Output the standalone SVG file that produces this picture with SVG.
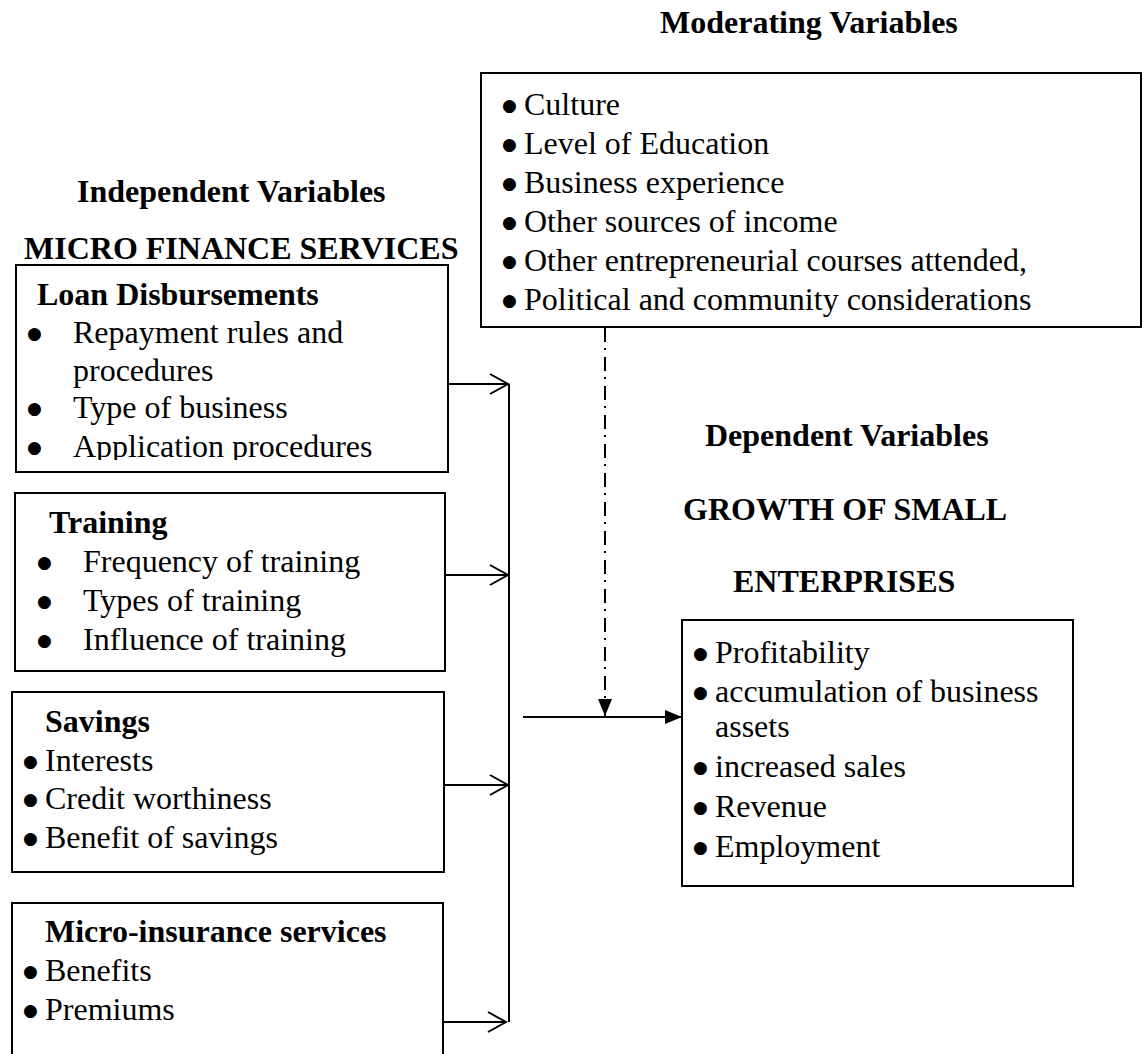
<svg xmlns="http://www.w3.org/2000/svg" width="1144" height="1054" viewBox="0 0 1144 1054">
<defs>
<style>
text{font-family:"Liberation Serif","Times New Roman",serif;font-size:32px;fill:#000}
.t{font-weight:bold}
.b{font-family:"DejaVu Sans",sans-serif;font-size:17px}
.box{fill:#fff;stroke:#000;stroke-width:2}
.ln{fill:none;stroke:#000;stroke-width:2}
.dd{fill:none;stroke:#000;stroke-width:2;stroke-dasharray:14 6 2 7}
</style>
<marker id="open" markerUnits="userSpaceOnUse" viewBox="-2 -2 22 24" markerWidth="22" markerHeight="24" refX="18" refY="10" orient="auto">
<path d="M0,0 L18,10 L0,20" fill="none" stroke="#000" stroke-width="2"/>
</marker>
<marker id="fill" markerUnits="userSpaceOnUse" viewBox="0 0 17 14" markerWidth="17" markerHeight="14" refX="17" refY="7" orient="auto">
<path d="M0,0 L17,7 L0,14 Z" fill="#000"/>
</marker>
<clipPath id="loanclip"><rect x="0" y="260" width="460" height="200"/></clipPath>
</defs>
<rect width="1144" height="1054" fill="#fff"/>

<g id="titles">
<text class="t" x="660" y="33">Moderating Variables</text>
<text class="t" x="77" y="202">Independent Variables</text>
<text class="t" x="24" y="259">MICRO FINANCE SERVICES</text>
<text class="t" x="705" y="446">Dependent Variables</text>
<text class="t" x="683" y="520">GROWTH OF SMALL</text>
<text class="t" x="733" y="592">ENTERPRISES</text>
</g>

<g id="moderating">
<rect class="box" x="481" y="73" width="660" height="254"/>
<text y="115"><tspan class="b" x="502" dy="-4">●</tspan><tspan x="524" dy="4">Culture</tspan></text>
<text y="154"><tspan class="b" x="502" dy="-4">●</tspan><tspan x="524" dy="4">Level of Education</tspan></text>
<text y="193"><tspan class="b" x="502" dy="-4">●</tspan><tspan x="524" dy="4">Business experience</tspan></text>
<text y="232"><tspan class="b" x="502" dy="-4">●</tspan><tspan x="524" dy="4">Other sources of income</tspan></text>
<text y="271"><tspan class="b" x="502" dy="-4">●</tspan><tspan x="524" dy="4">Other entrepreneurial courses attended,</tspan></text>
<text y="310"><tspan class="b" x="502" dy="-4">●</tspan><tspan x="524" dy="4">Political and community considerations</tspan></text>
</g>

<g id="loan">
<rect class="box" x="16" y="265" width="432" height="207"/>
<g clip-path="url(#loanclip)">
<text class="t" x="37" y="305">Loan Disbursements</text>
<text y="343"><tspan class="b" x="27" dy="-4">●</tspan><tspan x="73" dy="4">Repayment rules and</tspan></text>
<text x="73" y="381">procedures</text>
<text y="418"><tspan class="b" x="27" dy="-4">●</tspan><tspan x="73" dy="4">Type of business</tspan></text>
<text y="457"><tspan class="b" x="27" dy="-4">●</tspan><tspan x="73" dy="4">Application procedures</tspan></text>
</g>
</g>

<g id="training">
<rect class="box" x="15" y="493" width="430" height="178"/>
<text class="t" x="49" y="533">Training</text>
<text y="572"><tspan class="b" x="37" dy="-4">●</tspan><tspan x="83" dy="4">Frequency of training</tspan></text>
<text y="611"><tspan class="b" x="37" dy="-4">●</tspan><tspan x="83" dy="4">Types of training</tspan></text>
<text y="650"><tspan class="b" x="37" dy="-4">●</tspan><tspan x="83" dy="4">Influence of training</tspan></text>
</g>

<g id="savings">
<rect class="box" x="12" y="692" width="432" height="180"/>
<text class="t" x="45" y="732">Savings</text>
<text y="771"><tspan class="b" x="23" dy="-4">●</tspan><tspan x="45" dy="4">Interests</tspan></text>
<text y="809"><tspan class="b" x="23" dy="-4">●</tspan><tspan x="45" dy="4">Credit worthiness</tspan></text>
<text y="848"><tspan class="b" x="23" dy="-4">●</tspan><tspan x="45" dy="4">Benefit of savings</tspan></text>
</g>

<g id="microinsurance">
<rect class="box" x="12" y="903" width="431" height="200"/>
<text class="t" x="45" y="942">Micro-insurance services</text>
<text y="981"><tspan class="b" x="23" dy="-4">●</tspan><tspan x="45" dy="4">Benefits</tspan></text>
<text y="1020"><tspan class="b" x="23" dy="-4">●</tspan><tspan x="45" dy="4">Premiums</tspan></text>
</g>

<g id="dependent">
<rect class="box" x="682" y="620" width="391" height="266"/>
<text y="663"><tspan class="b" x="693" dy="-4">●</tspan><tspan x="715" dy="4">Profitability</tspan></text>
<text y="702"><tspan class="b" x="693" dy="-4">●</tspan><tspan x="715" dy="4">accumulation of business</tspan></text>
<text x="715" y="737">assets</text>
<text y="777"><tspan class="b" x="693" dy="-4">●</tspan><tspan x="715" dy="4">increased sales</tspan></text>
<text y="817"><tspan class="b" x="693" dy="-4">●</tspan><tspan x="715" dy="4">Revenue</tspan></text>
<text y="857"><tspan class="b" x="693" dy="-4">●</tspan><tspan x="715" dy="4">Employment</tspan></text>
</g>

<g id="connectors">
<line class="ln" x1="509" y1="384" x2="509" y2="1022"/>
<line class="ln" x1="448" y1="384" x2="508" y2="384" marker-end="url(#open)"/>
<line class="ln" x1="446" y1="575" x2="508" y2="575" marker-end="url(#open)"/>
<line class="ln" x1="444" y1="785" x2="508" y2="785" marker-end="url(#open)"/>
<line class="ln" x1="443" y1="1022" x2="506" y2="1022" marker-end="url(#open)"/>
<line class="ln" x1="523" y1="717" x2="682" y2="717" marker-end="url(#fill)"/>
<line class="dd" x1="605" y1="328" x2="605" y2="716" marker-end="url(#fill)"/>
</g>
</svg>
